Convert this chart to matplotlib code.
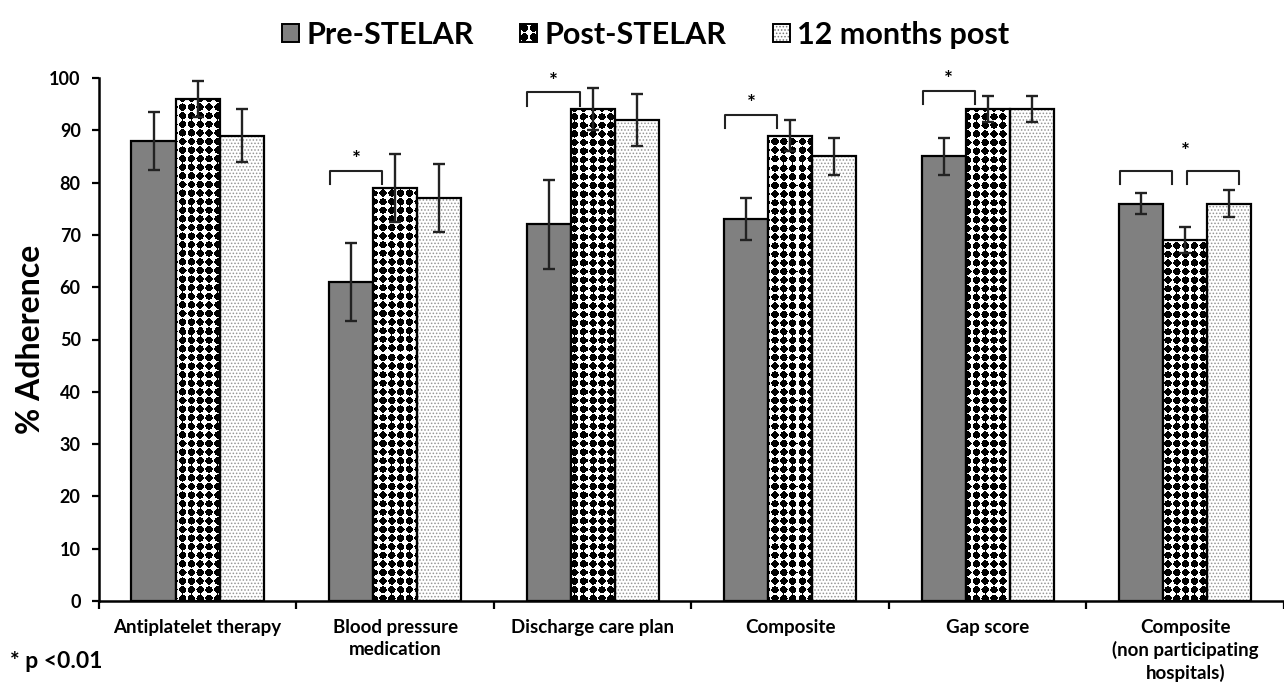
import matplotlib
matplotlib.use("Agg")
import matplotlib.pyplot as plt
import matplotlib.patches as mpatches
from matplotlib.legend_handler import HandlerBase
from matplotlib.image import BboxImage
from matplotlib.transforms import Bbox, TransformedBbox
import numpy as np

# ---------------- data ----------------
categories = ["Antiplatelet therapy", "Blood pressure\nmedication", "Discharge care plan",
              "Composite", "Gap score", "Composite\n(non participating\nhospitals)"]
series_names = ["Pre-STELAR", "Post-STELAR", "12 months post"]
pre_values = [88, 61, 72, 73, 85, 76]
pre_err = [5.5, 7.5, 8.5, 4.0, 3.5, 2.0]
post_values = [96, 79, 94, 89, 94, 69]
post_err = [3.5, 6.5, 4.0, 3.0, 2.5, 2.5]
m12_values = [89, 77, 92, 85, 94, 76]
m12_err = [5.0, 6.5, 5.0, 3.5, 2.5, 2.5]
yticks = list(range(0, 101, 10))
# significance brackets
sig_groups = [1, 2, 3, 4, 5, 5]
sig_pairs = ["pre-post", "pre-post", "pre-post", "pre-post", "pre-post", "post-12m"]
sig_tops = [82.3, 97.3, 93.0, 97.6, 82.3, 82.3]
footnote = "* p <0.01"

# ---------------- style ----------------
FONT = "Lato"
plt.rcParams["font.family"] = [FONT, "DejaVu Sans"]
plt.rcParams["font.weight"] = "bold"

fig = plt.figure(figsize=(12.84, 6.84), dpi=100)
W, H = 1284, 684
ax_left_px, ax_right_px = 98.8, 1284
ax_bot_px, ax_top_px = 601, 78
ax_w_px = ax_right_px - ax_left_px
ax_h_px = ax_bot_px - ax_top_px
ax = fig.add_axes([ax_left_px / W, (H - ax_bot_px) / H, ax_w_px / W, ax_h_px / H])

n = len(categories)
x = np.arange(n) + 0.5
bw = 0.223
xlim_right = ax_w_px / 199.2


def dot_texture(h, w, sx=8.8, sy=8.6, r=3.9, p=1.45):
    """black rounded-diamond dot pattern on white (RGBA)"""
    yy, xx = np.mgrid[0:h, 0:w].astype(float)
    dx = (xx + 0.5) % sx - sx / 2
    dy = (yy + 0.5) % sy - sy / 2
    mask = (np.abs(dx) ** p + np.abs(dy) ** p) <= r ** p
    img = np.ones((h, w, 4))
    img[mask, :3] = 0.0
    return img


tex = dot_texture(int(round(ax_h_px)), int(round(ax_w_px)))

err_kw = dict(ecolor="#222222", elinewidth=1.7, capsize=4, capthick=1.7)

# Pre bars
ax.bar(x - bw, pre_values, bw, color="#808080", edgecolor="black", linewidth=1.6,
       yerr=pre_err, error_kw=err_kw, zorder=2)
# Post bars (black dot pattern)
post_bars = ax.bar(x, post_values, bw, color="white", edgecolor="none", linewidth=0, zorder=2)
for rect in post_bars:
    im = ax.imshow(tex, extent=[0, xlim_right, 0, 100], origin="upper", aspect="auto",
                   interpolation="nearest", zorder=2.1)
    im.set_clip_path(rect)
ax.bar(x, post_values, bw, fill=False, edgecolor="black", linewidth=1.6, zorder=2.5)
ax.errorbar(x, post_values, yerr=post_err, fmt="none", zorder=3, **err_kw)
# 12 months bars (fine grey stipple)
plt.rcParams["hatch.linewidth"] = 0.7
ax.bar(x + bw, m12_values, bw, color="white", edgecolor="#959595", hatch=".....",
       linewidth=0, zorder=2)
ax.bar(x + bw, m12_values, bw, fill=False, edgecolor="black", linewidth=1.6, zorder=2.5)
ax.errorbar(x + bw, m12_values, yerr=m12_err, fmt="none", zorder=3, **err_kw)

# significance brackets
leg_drop = 2.6
for g, pair, top in zip(sig_groups, sig_pairs, sig_tops):
    c = x[g]
    if pair == "pre-post":
        x0, x1 = c - 1.48 * bw, c - 0.29 * bw
    else:
        x0, x1 = c + 0.04 * bw, c + 1.21 * bw
    ax.plot([x0, x0, x1, x1], [top - leg_drop, top, top, top - leg_drop],
            color="#222222", lw=1.5, clip_on=False, zorder=4)
    if g == 5:
        if pair == "pre-post":
            ax.text(c, top + 2.4, "*", ha="center", va="baseline", fontsize=15,
                    fontweight="bold", clip_on=False)
    else:
        ax.text((x0 + x1) / 2, top + 0.8, "*", ha="center", va="baseline", fontsize=15,
                fontweight="bold", clip_on=False)

# axes
ax.set_xlim(0, xlim_right)
ax.set_ylim(0, 100)
ax.set_yticks(yticks)
ax.set_yticklabels([str(v) for v in yticks], fontsize=13, fontweight="bold")
ax.set_xticks(np.arange(0, n + 1))
ax.set_xticklabels([])
ax.set_xticks(x, minor=True)
ax.set_xticklabels(categories, minor=True, fontsize=13.5, fontweight="bold",
                   linespacing=1.32, va="top")
ax.tick_params(axis="x", which="minor", length=0, pad=13)
ax.tick_params(axis="x", which="major", length=6, width=1.6, direction="out")
ax.tick_params(axis="y", length=5, width=1.6, direction="out", pad=8)
for s in ["top", "right"]:
    ax.spines[s].set_visible(False)
for s in ["left", "bottom"]:
    ax.spines[s].set_linewidth(1.8)
ax.set_ylabel("% Adherence", fontsize=23, fontweight="bold")
ax.yaxis.set_label_coords((45 - ax_left_px) / ax_w_px, 0.5)


# legend with patterned handle
class PatternHandler(HandlerBase):
    def __init__(self, face, pattern=None, hatch=None, hatchcolor="black"):
        super().__init__()
        self.face, self.pattern, self.hatch, self.hatchcolor = face, pattern, hatch, hatchcolor

    def create_artists(self, legend, orig_handle, xdescent, ydescent, width, height,
                       fontsize, trans):
        arts = []
        base = mpatches.Rectangle((-xdescent, -ydescent), width, height, facecolor=self.face,
                                  edgecolor=self.hatchcolor if self.hatch else "none",
                                  hatch=self.hatch, linewidth=0, transform=trans)
        arts.append(base)
        if self.pattern is not None:
            bb = TransformedBbox(Bbox.from_bounds(-xdescent, -ydescent, width, height), trans)
            im = BboxImage(bb, interpolation="nearest")
            im.set_data(self.pattern)
            arts.append(im)
        edge = mpatches.Rectangle((-xdescent, -ydescent), width, height, fill=False,
                                  edgecolor="black", linewidth=1.4, transform=trans)
        arts.append(edge)
        return arts


h_pre = mpatches.Patch(label=series_names[0])
h_post = mpatches.Patch(label=series_names[1])
h_12 = mpatches.Patch(label=series_names[2])
handler_map = {
    h_pre: PatternHandler("#808080"),
    h_post: PatternHandler("white", pattern=dot_texture(17, 17, sx=8.5, sy=8.5, r=4.0)),
    h_12: PatternHandler("white", hatch=".....", hatchcolor="#777777"),
}
fig.legend(handles=[h_pre, h_post, h_12], handler_map=handler_map, loc="upper center",
           bbox_to_anchor=(0.503, 1.01), ncol=3, frameon=False,
           prop=dict(family=FONT, weight="bold", size=22),
           handlelength=0.56, handleheight=0.56, handletextpad=0.25, columnspacing=1.5)

fig.text(10 / W, 1 - 662 / H, footnote, fontsize=16.5, fontweight="bold", va="center", ha="left")

fig.savefig("out.png", dpi=100)
